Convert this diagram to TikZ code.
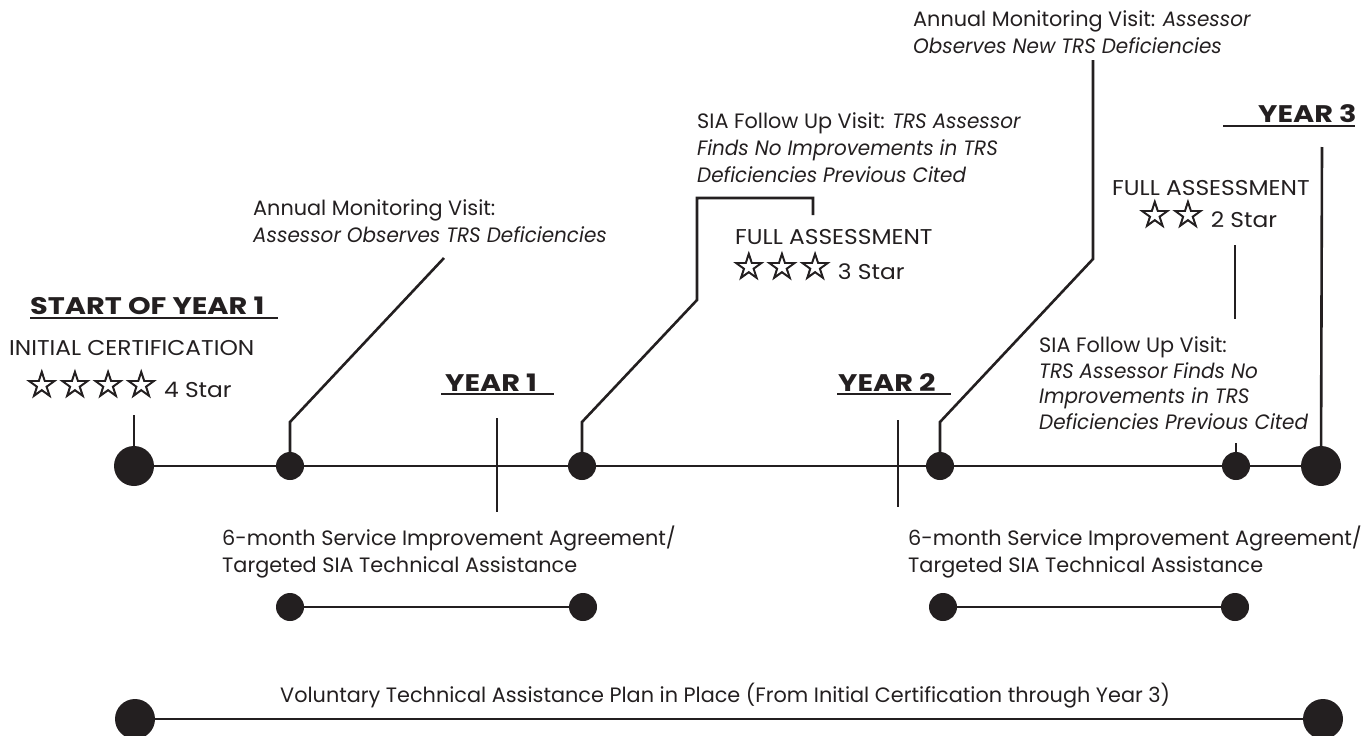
\documentclass[tikz,border=0pt]{standalone}
\usepackage{fontspec}
\setmainfont{Poppins}[ItalicFeatures={FakeStretch=0.96}]
\newfontfamily\starfont{DejaVu Sans}[FakeBold=2.5]
\newfontfamily\headfont{Poppins}[FakeStretch=1.2]
\newfontfamily\capsfont{Poppins}[FakeStretch=1.09]
\definecolor{ink}{RGB}{35,31,32}
\tikzset{
  lbl/.style={font=\fontsize{20.8}{26}\selectfont, text=ink, inner sep=0pt, anchor=base west},
  caps/.style={font=\capsfont\fontsize{21.4}{26}\selectfont, text=ink, inner sep=0pt, anchor=base west},
  head/.style={font=\headfont\fontsize{24}{26}\selectfont\bfseries, text=ink, inner sep=0pt, anchor=base west},
  bigdot/.style={circle, fill=ink, inner sep=0pt, minimum size=40pt},
  smalldot/.style={circle, fill=ink, inner sep=0pt, minimum size=28pt},
  conn/.style={draw=ink, line width=2.6pt},
  uline/.style={draw=ink, line width=1.4pt},
}
\newcommand{\starglyphs}[1]{{\starfont\fontsize{37}{37}\selectfont #1}}
\begin{document}
\begin{tikzpicture}[x=1pt,y=-1pt]
\useasboundingbox (0,0) rectangle (1371,736);
% main timeline
\node[bigdot] (s0) at (134,466) {};
\node[smalldot] (d1) at (290,466) {};
\node[smalldot] (d2) at (582,466) {};
\node[smalldot] (d3) at (940,466) {};
\node[smalldot] (d4) at (1236,466) {};
\node[bigdot] (s3) at (1321,466) {};
\draw[conn] (s0) -- (d1) -- (d2) -- (d3) -- (d4) -- (s3);
% year ticks
\coordinate (y1t) at (497,418); \coordinate (y1b) at (497,512);
\coordinate (y2t) at (898,420); \coordinate (y2b) at (898,507);
\draw[conn] (y1t) -- (y1b);
\draw[conn] (y2t) -- (y2b);
% connectors
\coordinate (c0) at (134,415);
\draw[conn] (s0.center) -- (c0);
\coordinate (c1a) at (290,422); \coordinate (c1b) at (444,258);
\draw[conn] (d1.center) -- (c1a) -- (c1b);
\coordinate (c2a) at (582,422); \coordinate (c2b) at (697,300); \coordinate (c2c) at (697,198);
\coordinate (c2d) at (813,198); \coordinate (c2e) at (813,215);
\draw[conn] (d2.center) -- (c2a) -- (c2b) -- (c2c) -- (c2d) -- (c2e);
\coordinate (c3a) at (940,422); \coordinate (c3b) at (1093,259); \coordinate (c3c) at (1093,60);
\draw[conn] (d3.center) -- (c3a) -- (c3b) -- (c3c);
\coordinate (c4a) at (1236,443);
\draw[conn] (d4.center) -- (c4a);
\coordinate (c4t) at (1235,245); \coordinate (c4b) at (1235,319);
\draw[conn] (c4t) -- (c4b);
\coordinate (c5) at (1322,147);
\draw[conn] (s3.center) -- (c5);
% headings
\node[head] (hs) at (30,314) {START OF YEAR 1};
\draw[uline] (30,318) -- (278,318);
\node[head] (h1) at (445,391) {YEAR 1};
\draw[uline] (441,394) -- (554,394);
\node[head] (h2) at (838,391) {YEAR 2};
\draw[uline] (837,394) -- (951,394);
\node[head] (h3) at (1258,122) {YEAR 3};
\draw[uline] (1223,126) -- (1355,126);
% labels
\node[caps] (ic) at (9,355) {INITIAL CERTIFICATION};
\node[caps] (ic2) at (25,397) {\starglyphs{☆☆☆☆} 4 Star};
\node[lbl] (am1) at (253,215) {Annual Monitoring Visit:};
\node[lbl] (am2) at (253,242) {\textit{Assessor Observes TRS Deficiencies}};
\node[lbl] (sf1) at (697,128) {SIA Follow Up Visit: \textit{TRS Assessor}};
\node[lbl] (sf2) at (697,155) {\textit{Finds No Improvements in TRS}};
\node[lbl] (sf3) at (697,182) {\textit{Deficiencies Previous Cited}};
\node[caps] (fa1) at (735,244) {FULL ASSESSMENT};
\node[caps] (fa2) at (732,279) {\starglyphs{☆☆☆} 3 Star};
\node[lbl] (an1) at (913,27) {Annual Monitoring Visit: \textit{Assessor}};
\node[lbl] (an2) at (913,53) {\textit{Observes New TRS Deficiencies}};
\node[caps] (fb1) at (1112,195) {FULL ASSESSMENT};
\node[caps] (fb2) at (1138,227) {\starglyphs{☆☆} 2 Star};
\node[lbl] (sg1) at (1039,352) {SIA Follow Up Visit:};
\node[lbl] (sg2) at (1039,378) {\textit{TRS Assessor Finds No}};
\node[lbl] (sg3) at (1039,403) {\textit{Improvements in TRS}};
\node[lbl] (sg4) at (1039,429) {\textit{Deficiencies Previous Cited}};
% SIA periods
\node[lbl] (sa1) at (222,545) {6-month Service Improvement Agreement/};
\node[lbl] (sa2) at (222,572) {Targeted SIA Technical Assistance};
\node[smalldot] (p1) at (290,607) {};
\node[smalldot] (p2) at (583,607) {};
\draw[conn] (p1) -- (p2);
\node[lbl] (sb1) at (908,545) {6-month Service Improvement Agreement/};
\node[lbl] (sb2) at (908,572) {Targeted SIA Technical Assistance};
\node[smalldot] (q1) at (943,607) {};
\node[smalldot] (q2) at (1235,607) {};
\draw[conn] (q1) -- (q2);
% voluntary plan
\node[lbl] (vt) at (280,702) {Voluntary Technical Assistance Plan in Place (From Initial Certification through Year 3)};
\node[bigdot] (v1) at (135,719) {};
\node[bigdot] (v2) at (1323,719) {};
\draw[conn] (v1) -- (v2);
\end{tikzpicture}
\end{document}
